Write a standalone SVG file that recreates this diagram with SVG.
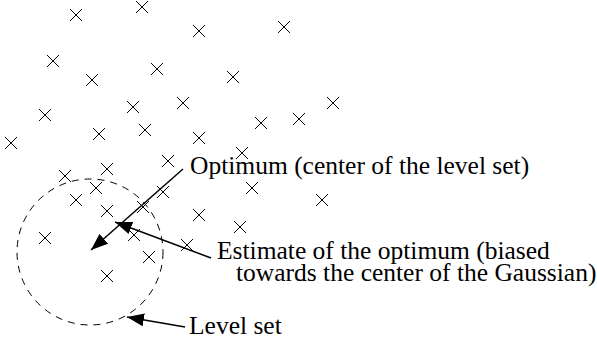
<svg xmlns="http://www.w3.org/2000/svg" width="597" height="343" viewBox="0 0 597 343">
<defs>
<style>
.x{stroke:#000;stroke-width:1;fill:none}
.c{stroke:#000;stroke-width:1.5;fill:none}
.lvl{stroke:#000;stroke-width:1;fill:none;stroke-dasharray:7 6}
.t{font-family:"Liberation Serif","Times New Roman",serif;font-size:25.5px;fill:#000}
</style>
<marker id="ah" markerUnits="userSpaceOnUse" markerWidth="19" markerHeight="14" refX="17" refY="7" orient="auto" viewBox="0 0 19 14">
<path d="M0,0.5 L17,7 L0,13.5 z" fill="#000"/>
</marker>
<path id="cr" d="M-6,-6 L6,6 M-6,6 L6,-6"/>
</defs>
<rect width="597" height="343" fill="#fff"/>
<g id="samples" class="x">
<use href="#cr" x="76" y="15"/><use href="#cr" x="142" y="7"/><use href="#cr" x="199" y="31"/><use href="#cr" x="284" y="27"/>
<use href="#cr" x="53" y="61"/><use href="#cr" x="92" y="80"/><use href="#cr" x="157" y="69"/><use href="#cr" x="233" y="77"/>
<use href="#cr" x="45" y="115"/><use href="#cr" x="133" y="107"/><use href="#cr" x="183" y="103"/><use href="#cr" x="333" y="103"/>
<use href="#cr" x="261" y="123"/><use href="#cr" x="299" y="119"/><use href="#cr" x="11" y="143"/><use href="#cr" x="99" y="134"/>
<use href="#cr" x="145" y="130"/><use href="#cr" x="199" y="138"/><use href="#cr" x="242" y="153"/><use href="#cr" x="168" y="161"/>
<use href="#cr" x="107" y="169"/><use href="#cr" x="65" y="176"/><use href="#cr" x="96" y="188"/><use href="#cr" x="76" y="200"/>
<use href="#cr" x="163" y="192"/><use href="#cr" x="252" y="188"/><use href="#cr" x="322" y="200"/><use href="#cr" x="107" y="211"/>
<use href="#cr" x="143" y="207"/><use href="#cr" x="199" y="215"/><use href="#cr" x="240" y="227"/><use href="#cr" x="45" y="238"/>
<use href="#cr" x="134" y="235"/><use href="#cr" x="187" y="245"/><use href="#cr" x="149" y="257"/><use href="#cr" x="107" y="276"/>
</g>
<g id="level-set">
<circle class="lvl" cx="90" cy="252" r="73"/>
</g>
<g id="connectors" class="c">
<line x1="183" y1="169" x2="91" y2="250" marker-end="url(#ah)"/>
<line x1="211" y1="258" x2="115" y2="222" marker-end="url(#ah)"/>
<line x1="185" y1="327" x2="127" y2="317" marker-end="url(#ah)"/>
</g>
<g id="label-optimum"><text class="t" x="190" y="174">Optimum (center of the level set)</text></g>
<g id="label-estimate"><text class="t" x="217" y="259">Estimate of the optimum (biased</text><text class="t" x="236" y="281">towards the center of the Gaussian)</text></g>
<g id="label-level"><text class="t" x="189" y="334">Level set</text></g>
</svg>
